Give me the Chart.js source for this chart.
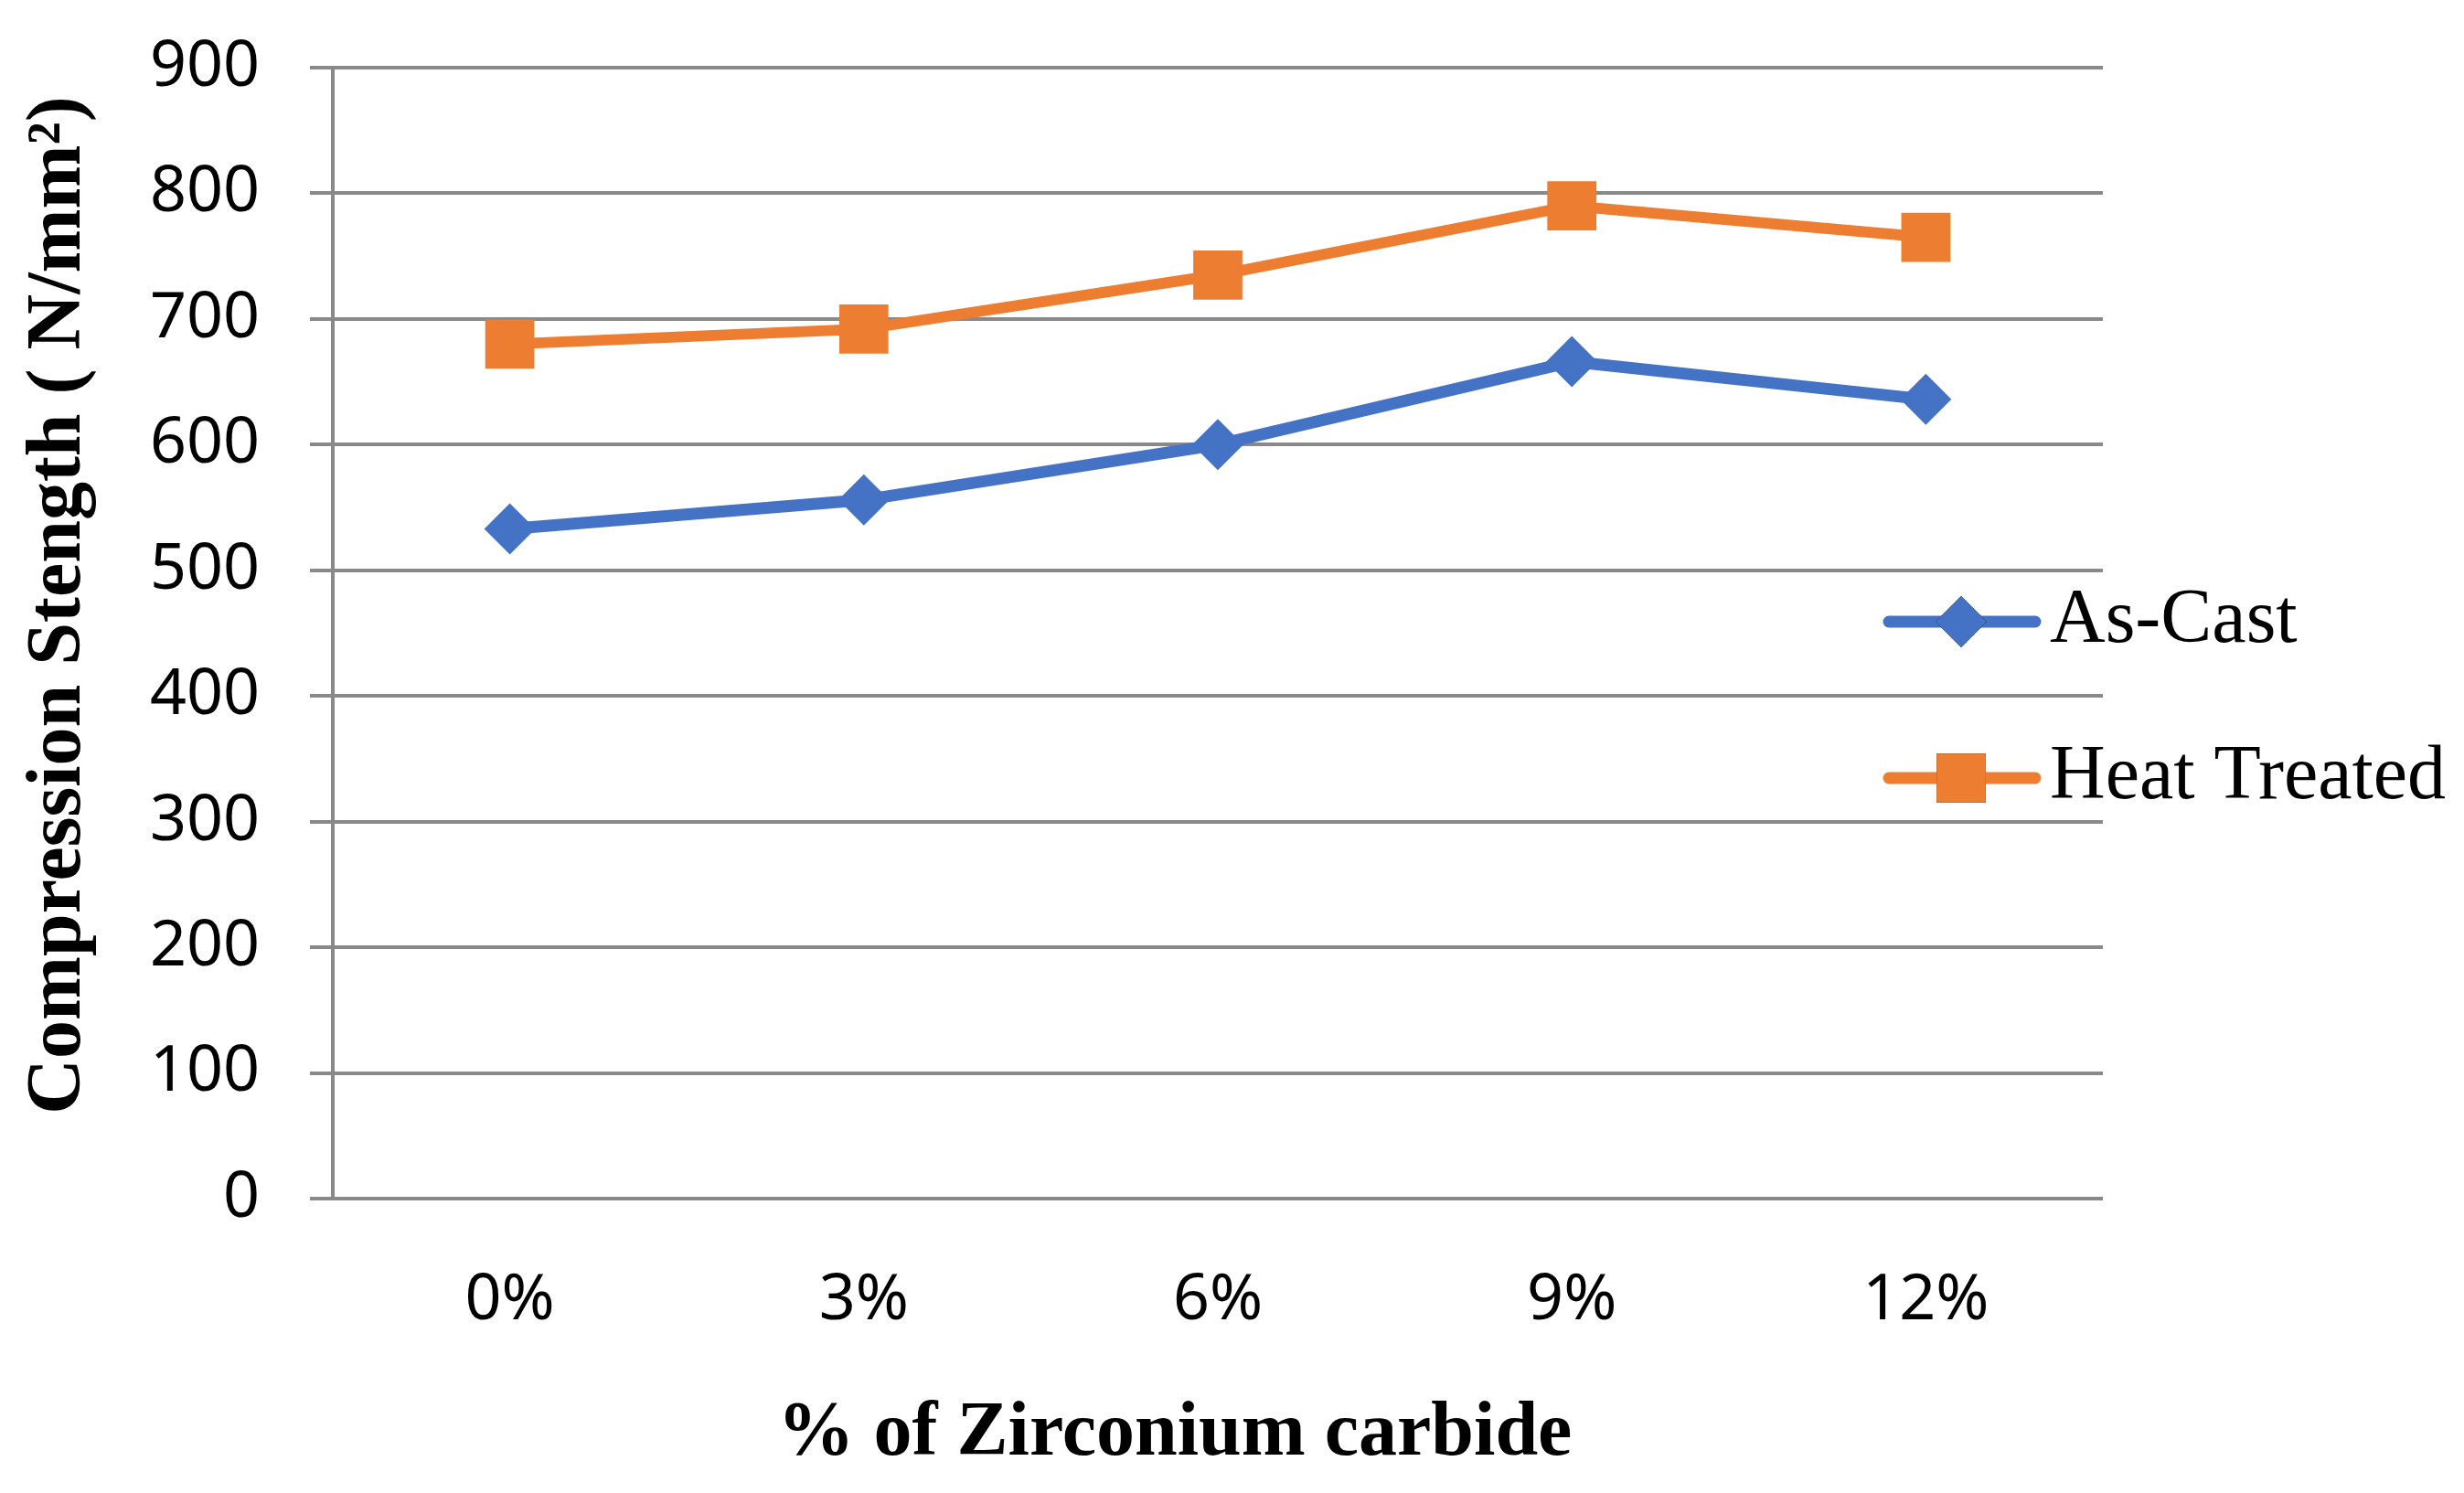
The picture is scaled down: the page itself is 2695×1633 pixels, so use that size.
<!DOCTYPE html>
<html>
<head>
<meta charset="utf-8">
<script src="https://cdn.jsdelivr.net/npm/chart.js@4/dist/chart.umd.min.js"></script>
<style>
  html, body { margin: 0; padding: 0; background: #fff; }
  #wrap { width: 2695px; height: 1633px; }
</style>
</head>
<body>
<div id="wrap"><canvas id="myChart" width="2695" height="1633"></canvas></div>
<script>
(function() {

  "use strict";

  var categories = ['0%', '3%', '6%', '9%', '12%'];
  var asCast = [533, 556, 600, 666, 636];
  var heatTreated = [680, 692, 735, 790, 765];
  var yTicks = [0, 100, 200, 300, 400, 500, 600, 700, 800, 900];

  var xTitle = '% of Zirconium carbide';
  var yTitle = 'Compression Stength ( N/mm²)';

  var gridGrey = '#898989';
  var titleFont = 'bold 84px "Liberation Serif"';

  // legend and axis titles drawn by hand, the legend sits over the plot
  var sideLegend = {
    id: 'sideLegend',
    afterDraw: function(chart) {
      var ctx = chart.ctx;
      var rows = [680, 851];
      ctx.save();
      chart.data.datasets.forEach(function(ds, i) {
        var y = rows[i];
        ctx.strokeStyle = ds.borderColor;
        ctx.lineWidth = 13;
        ctx.lineCap = 'round';
        ctx.beginPath();
        ctx.moveTo(2066, y);
        ctx.lineTo(2226, y);
        ctx.stroke();
        Chart.helpers.drawPoint(ctx, {
          pointStyle: ds.pointStyle,
          radius: ds.pointRadius,
          borderWidth: 0,
          rotation: 0
        }, 2145, y);
        ctx.fillStyle = ds.backgroundColor;
        ctx.fill();
        ctx.fillStyle = '#000';
        ctx.font = '84px "Liberation Serif"';
        ctx.textBaseline = 'middle';
        ctx.textAlign = 'left';
        ctx.fillText(ds.label, 2242, y);
      });

      ctx.fillStyle = '#000';
      ctx.font = titleFont;
      ctx.textAlign = 'center';
      ctx.textBaseline = 'middle';
      ctx.fillText(xTitle, 1285, 1569);

      ctx.translate(65, 662);
      ctx.rotate(-Math.PI / 2);
      ctx.fillText(yTitle, 0, 0);
      ctx.restore();
    }
  };

  var ctx = document.getElementById('myChart').getContext('2d');

  var myChart = new Chart(ctx, {
    type: 'line',
    data: {
      labels: categories,
      datasets: [
        {
          label: 'As-Cast',
          data: asCast,
          borderColor: '#4472C4',
          backgroundColor: '#4472C4',
          pointBackgroundColor: '#4472C4',
          borderWidth: 13,
          pointStyle: 'rectRot',
          pointRadius: 28,
          pointBorderWidth: 0,
          tension: 0
        },
        {
          label: 'Heat Treated',
          data: heatTreated,
          borderColor: '#ED7D31',
          backgroundColor: '#ED7D31',
          pointBackgroundColor: '#ED7D31',
          borderWidth: 12,
          pointStyle: 'rect',
          pointRadius: 38,
          pointBorderWidth: 0,
          tension: 0
        }
      ]
    },
    options: {
      responsive: false,
      animation: false,
      devicePixelRatio: 1,
      layout: { padding: { left: 0, right: 395, top: 74, bottom: 0 } },
      plugins: {
        legend: { display: false },
        tooltip: { enabled: false }
      },
      scales: {
        x: {
          offset: true,
          grid: { display: false },
          border: { display: false },
          ticks: {
            padding: 62,
            color: '#000',
            font: { family: '"Noto Sans"', size: 70 }
          },
          afterFit: function(scale) {
            scale.height = 322;
            scale.paddingLeft = 0;
            scale.paddingRight = 0;
          }
        },
        y: {
          min: 0,
          max: 900,
          afterBuildTicks: function(scale) {
            scale.ticks = yTicks.map(function(v) { return { value: v }; });
          },
          grid: {
            color: gridGrey,
            lineWidth: 4,
            tickLength: 25,
            drawTicks: true
          },
          border: { display: true, color: gridGrey, width: 4 },
          ticks: {
            padding: 55,
            color: '#000',
            font: { family: '"Noto Sans"', size: 70 }
          },
          afterFit: function(scale) {
            scale.width = 364;
            scale.paddingTop = 0;
            scale.paddingBottom = 0;
          }
        }
      }
    },
    plugins: [sideLegend]
  });

})();
</script>
</body>
</html>
